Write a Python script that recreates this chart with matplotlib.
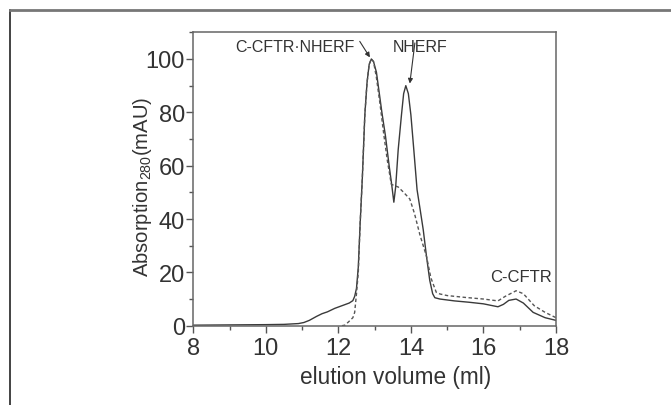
import matplotlib
matplotlib.use("Agg")
import matplotlib.pyplot as plt
from matplotlib.lines import Line2D
from matplotlib.ticker import MultipleLocator

plt.rcParams['font.family'] = ['Liberation Sans', 'DejaVu Sans']
plt.rcParams['mathtext.fontset'] = 'custom'
plt.rcParams['mathtext.rm'] = 'Liberation Sans'
plt.rcParams['mathtext.it'] = 'Liberation Sans'

# Solid trace (C-CFTR + NHERF mixture)
solid_x = [8.0, 9.0, 10.0, 10.5, 10.9, 11.05, 11.2, 11.4, 11.55, 11.7, 11.9, 12.1,
           12.3, 12.4, 12.45, 12.5, 12.55, 12.6, 12.66, 12.73, 12.79, 12.85, 12.91,
           12.97, 13.05, 13.12, 13.2, 13.3, 13.4, 13.47, 13.53, 13.58, 13.65, 13.74,
           13.8, 13.86, 13.93, 14.0, 14.08, 14.17, 14.25, 14.34, 14.43, 14.52, 14.6,
           14.66, 14.8, 15.2, 15.6, 16.0, 16.4, 16.55, 16.7, 16.9, 17.1, 17.37, 17.7, 18.0]
solid_y = [0.2, 0.3, 0.4, 0.5, 0.8, 1.2, 2.0, 3.5, 4.5, 5.2, 6.5, 7.5,
           8.5, 9.4, 11, 14, 22, 38, 55, 79, 91, 98, 100,
           99, 95, 88, 80, 71, 60, 53, 46.3, 52, 66, 79,
           87, 90, 87, 79, 66, 51, 44, 36, 26, 17, 12,
           10.5, 10, 9.3, 8.8, 8.2, 7.1, 8, 9.5, 10, 8.5, 5, 3, 2]

# Dashed trace (C-CFTR.NHERF complex)
dash_x = [12.1, 12.18, 12.27, 12.4, 12.45, 12.5, 12.55, 12.6, 12.66, 12.73, 12.79,
          12.85, 12.91, 12.97, 13.05, 13.15, 13.25, 13.35, 13.46, 13.55, 13.65, 13.8,
          13.97, 14.1, 14.25, 14.34, 14.43, 14.55, 14.7, 14.8, 15.0, 15.5, 16.0, 16.4,
          16.6, 16.9, 17.1, 17.4, 17.7, 18.0]
dash_y = [0, 0.2, 1.3, 3, 5, 12, 20, 38, 55, 79, 91,
          98, 100, 99, 93, 83, 72, 62, 53, 52.5, 52, 50,
          47.5, 42, 34, 30, 26, 18, 12.5, 11.9, 11.3, 10.6, 10, 9.3,
          11, 13.1, 12, 7.5, 5, 3]

x_ticks = [8, 10, 12, 14, 16, 18]
y_ticks = [0, 20, 40, 60, 80, 100]

fig = plt.figure(figsize=(6.71, 4.06), dpi=100)
ax = fig.add_axes([0.288, 0.1953, 0.5406, 0.7227])

ax.plot(solid_x, solid_y, color='#3a3a3a', lw=1.0, solid_joinstyle='round')
ax.plot(dash_x, dash_y, color='#555555', lw=1.0, linestyle=(0, (2.5, 1.8)))

ax.set_xlim(8, 18)
ax.set_ylim(0, 110)
ax.set_xticks(x_ticks)
ax.set_yticks(y_ticks)
ax.xaxis.set_minor_locator(MultipleLocator(1))
ax.yaxis.set_minor_locator(MultipleLocator(10))
ax.tick_params(which='major', direction='out', length=5, width=1, colors='#555555',
               labelsize=17, labelcolor='#333333', pad=3)
ax.tick_params(axis='y', which='major', pad=1)
ax.tick_params(which='minor', direction='out', length=3, width=1, colors='#555555')
for s in ax.spines.values():
    s.set_color('#666666')
    s.set_linewidth(1.1)

ax.set_xlabel('elution volume (ml)', fontsize=16.3, color='#333333')
ax.set_ylabel(r'Absorption$_{\mathregular{280}}$(mAU)', fontsize=14.6, color='#333333')
ax.xaxis.set_label_coords(0.559, -0.135)
ax.yaxis.set_label_coords(-0.108, 0.476)

txt_col = '#333333'
ax.text(12.45, 104.8, 'C-CFTR·NHERF', ha='right', va='center', fontsize=11.5, color=txt_col)
ax.annotate('', xy=(12.87, 100.6), xytext=(12.59, 106.6),
            arrowprops=dict(arrowstyle='-|>', lw=0.8, color=txt_col, mutation_scale=7,
                            shrinkA=0, shrinkB=0))
ax.text(14.25, 104.5, 'NHERF', ha='center', va='center', fontsize=11.5, color=txt_col)
ax.annotate('', xy=(13.97, 90.8), xytext=(14.11, 106.0),
            arrowprops=dict(arrowstyle='-|>', lw=0.8, color=txt_col, mutation_scale=7,
                            shrinkA=0, shrinkB=0))
ax.text(17.03, 18.3, 'C-CFTR', ha='center', va='center', fontsize=12, color=txt_col)

# outer frame (left and top edges)
fig.add_artist(Line2D([10/671, 10/671], [0, 1 - 11/406], transform=fig.transFigure,
                      color='#222222', lw=1.2))
fig.add_artist(Line2D([10/671, 1], [1 - 11/406, 1 - 11/406], transform=fig.transFigure,
                      color='#777777', lw=2))

fig.savefig('out.png', dpi=100)
